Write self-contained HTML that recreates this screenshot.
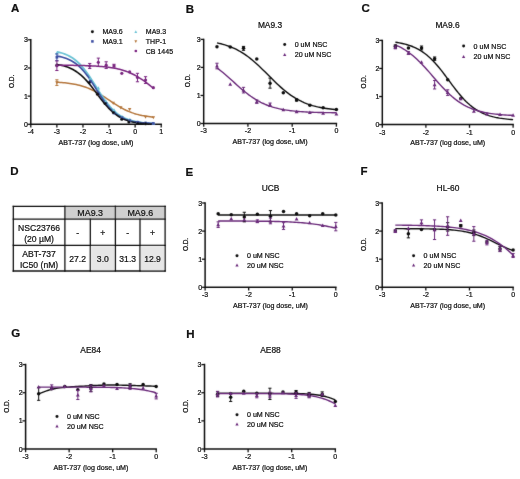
<!DOCTYPE html>
<html><head><meta charset="utf-8"><style>
html,body{margin:0;padding:0;background:#fff;}
body{width:520px;height:479px;overflow:hidden;}
svg{display:block;will-change:transform;}
</style></head><body>
<svg width="520" height="479" viewBox="0 0 520 479">
<rect width="520" height="479" fill="#fff"/>
<filter id="bl" x="0" y="0" width="100%" height="100%" filterUnits="userSpaceOnUse"><feConvolveMatrix order="3" kernelMatrix="0.01 0.06 0.01 0.06 0.72 0.06 0.01 0.06 0.01" edgeMode="none" preserveAlpha="false"/></filter><g filter="url(#bl)">
<path d="M30.80 39.80V124.30H161.20" fill="none" stroke="#111" stroke-width="1.5" stroke-linecap="square"/>
<line x1="27.60" y1="124.30" x2="30.80" y2="124.30" stroke="#111" stroke-width="1.3"/>
<line x1="27.60" y1="96.13" x2="30.80" y2="96.13" stroke="#111" stroke-width="1.3"/>
<line x1="27.60" y1="67.97" x2="30.80" y2="67.97" stroke="#111" stroke-width="1.3"/>
<line x1="27.60" y1="39.80" x2="30.80" y2="39.80" stroke="#111" stroke-width="1.3"/>
<line x1="30.80" y1="124.30" x2="30.80" y2="127.50" stroke="#111" stroke-width="1.3"/>
<line x1="56.88" y1="124.30" x2="56.88" y2="127.50" stroke="#111" stroke-width="1.3"/>
<line x1="82.96" y1="124.30" x2="82.96" y2="127.50" stroke="#111" stroke-width="1.3"/>
<line x1="109.04" y1="124.30" x2="109.04" y2="127.50" stroke="#111" stroke-width="1.3"/>
<line x1="135.12" y1="124.30" x2="135.12" y2="127.50" stroke="#111" stroke-width="1.3"/>
<line x1="161.20" y1="124.30" x2="161.20" y2="127.50" stroke="#111" stroke-width="1.3"/>
<path d="M56.88 82.24 L58.49 82.34 L60.10 82.45 L61.70 82.57 L63.31 82.71 L64.92 82.87 L66.53 83.04 L68.14 83.24 L69.75 83.45 L71.35 83.69 L72.96 83.95 L74.57 84.25 L76.18 84.57 L77.79 84.92 L79.40 85.31 L81.00 85.74 L82.61 86.21 L84.22 86.72 L85.83 87.27 L87.44 87.87 L89.05 88.52 L90.65 89.22 L92.26 89.96 L93.87 90.75 L95.48 91.59 L97.09 92.48 L98.69 93.41 L100.30 94.37 L101.91 95.38 L103.52 96.41 L105.13 97.46 L106.74 98.53 L108.34 99.61 L109.95 100.70 L111.56 101.78 L113.17 102.84 L114.78 103.89 L116.39 104.91 L117.99 105.90 L119.60 106.86 L121.21 107.77 L122.82 108.64 L124.43 109.47 L126.04 110.25 L127.64 110.98 L129.25 111.66 L130.86 112.29 L132.47 112.87 L134.08 113.41 L135.69 113.91 L137.29 114.36 L138.90 114.78 L140.51 115.15 L142.12 115.50 L143.73 115.81 L145.33 116.09 L146.94 116.35 L148.55 116.58 L150.16 116.78 L151.77 116.97 L153.38 117.14" fill="none" stroke="#b5773c" stroke-width="1.5" stroke-linejoin="round"/>
<path d="M56.88 51.76 L58.49 52.12 L60.10 52.53 L61.70 52.99 L63.31 53.52 L64.92 54.11 L66.53 54.77 L68.14 55.52 L69.75 56.36 L71.35 57.30 L72.96 58.35 L74.57 59.51 L76.18 60.79 L77.79 62.20 L79.40 63.74 L81.00 65.42 L82.61 67.24 L84.22 69.19 L85.83 71.26 L87.44 73.46 L89.05 75.77 L90.65 78.17 L92.26 80.65 L93.87 83.18 L95.48 85.75 L97.09 88.32 L98.69 90.88 L100.30 93.40 L101.91 95.86 L103.52 98.23 L105.13 100.50 L106.74 102.67 L108.34 104.70 L109.95 106.61 L111.56 108.38 L113.17 110.02 L114.78 111.52 L116.39 112.89 L117.99 114.13 L119.60 115.25 L121.21 116.26 L122.82 117.17 L124.43 117.98 L126.04 118.70 L127.64 119.34 L129.25 119.91 L130.86 120.41 L132.47 120.86 L134.08 121.25 L135.69 121.59 L137.29 121.90 L138.90 122.16 L140.51 122.40 L142.12 122.60 L143.73 122.78 L145.33 122.94 L146.94 123.08 L148.55 123.20 L150.16 123.30 L151.77 123.39 L153.38 123.47" fill="none" stroke="#6cc3d5" stroke-width="1.8" stroke-linejoin="round"/>
<path d="M56.88 56.02 L58.49 56.31 L60.10 56.65 L61.70 57.04 L63.31 57.48 L64.92 57.98 L66.53 58.55 L68.14 59.20 L69.75 59.93 L71.35 60.76 L72.96 61.70 L74.57 62.74 L76.18 63.91 L77.79 65.20 L79.40 66.63 L81.00 68.20 L82.61 69.91 L84.22 71.76 L85.83 73.75 L87.44 75.87 L89.05 78.10 L90.65 80.44 L92.26 82.87 L93.87 85.36 L95.48 87.88 L97.09 90.42 L98.69 92.94 L100.30 95.42 L101.91 97.83 L103.52 100.16 L105.13 102.38 L106.74 104.48 L108.34 106.44 L109.95 108.27 L111.56 109.96 L113.17 111.51 L114.78 112.91 L116.39 114.19 L117.99 115.33 L119.60 116.36 L121.21 117.27 L122.82 118.09 L124.43 118.81 L126.04 119.45 L127.64 120.01 L129.25 120.50 L130.86 120.93 L132.47 121.31 L134.08 121.64 L135.69 121.92 L137.29 122.18 L138.90 122.39 L140.51 122.58 L142.12 122.75 L143.73 122.89 L145.33 123.02 L146.94 123.12 L148.55 123.22 L150.16 123.30 L151.77 123.37 L153.38 123.43" fill="none" stroke="#3d4fa3" stroke-width="1.7" stroke-linejoin="round"/>
<path d="M56.88 64.42 L58.49 64.70 L60.10 65.01 L61.70 65.37 L63.31 65.78 L64.92 66.24 L66.53 66.76 L68.14 67.34 L69.75 68.00 L71.35 68.73 L72.96 69.56 L74.57 70.47 L76.18 71.48 L77.79 72.60 L79.40 73.83 L81.00 75.17 L82.61 76.62 L84.22 78.19 L85.83 79.86 L87.44 81.65 L89.05 83.53 L90.65 85.49 L92.26 87.53 L93.87 89.62 L95.48 91.75 L97.09 93.90 L98.69 96.05 L100.30 98.17 L101.91 100.25 L103.52 102.27 L105.13 104.21 L106.74 106.06 L108.34 107.82 L109.95 109.46 L111.56 111.00 L113.17 112.42 L114.78 113.73 L116.39 114.92 L117.99 116.01 L119.60 116.99 L121.21 117.88 L122.82 118.68 L124.43 119.39 L126.04 120.03 L127.64 120.59 L129.25 121.10 L130.86 121.54 L132.47 121.93 L134.08 122.28 L135.69 122.58 L137.29 122.85 L138.90 123.09 L140.51 123.29 L142.12 123.47 L143.73 123.63 L145.33 123.77 L146.94 123.89 L148.55 124.00 L150.16 124.09 L151.77 124.17 L153.38 124.24" fill="none" stroke="#111" stroke-width="1.6" stroke-linejoin="round"/>
<path d="M56.88 65.22 L58.49 65.23 L60.10 65.24 L61.70 65.25 L63.31 65.26 L64.92 65.27 L66.53 65.29 L68.14 65.30 L69.75 65.32 L71.35 65.34 L72.96 65.36 L74.57 65.38 L76.18 65.41 L77.79 65.43 L79.40 65.47 L81.00 65.50 L82.61 65.54 L84.22 65.58 L85.83 65.63 L87.44 65.69 L89.05 65.75 L90.65 65.81 L92.26 65.88 L93.87 65.97 L95.48 66.06 L97.09 66.16 L98.69 66.27 L100.30 66.39 L101.91 66.52 L103.52 66.67 L105.13 66.84 L106.74 67.02 L108.34 67.22 L109.95 67.45 L111.56 67.69 L113.17 67.96 L114.78 68.26 L116.39 68.58 L117.99 68.94 L119.60 69.33 L121.21 69.76 L122.82 70.23 L124.43 70.73 L126.04 71.28 L127.64 71.88 L129.25 72.53 L130.86 73.23 L132.47 73.97 L134.08 74.78 L135.69 75.64 L137.29 76.55 L138.90 77.52 L140.51 78.54 L142.12 79.62 L143.73 80.74 L145.33 81.91 L146.94 83.13 L148.55 84.38 L150.16 85.67 L151.77 86.98 L153.38 88.32" fill="none" stroke="#7a2580" stroke-width="1.5" stroke-linejoin="round"/>
<path d="M56.88 79.80V85.43M55.28 79.80H58.48M55.28 85.43H58.48" stroke="#b5773c" stroke-width="1" fill="none"/>
<path d="M56.88 84.41L58.59 81.26L55.17 81.26Z" fill="#b5773c"/>
<path d="M97.83 96.52L99.54 93.38L96.12 93.38Z" fill="#b5773c"/>
<path d="M113.21 104.97L114.92 101.83L111.50 101.83Z" fill="#b5773c"/>
<path d="M120.78 109.48L122.49 106.33L119.07 106.33Z" fill="#b5773c"/>
<path d="M129.64 111.17L131.35 108.02L127.93 108.02Z" fill="#b5773c"/>
<path d="M145.55 118.78L147.26 115.63L143.84 115.63Z" fill="#b5773c"/>
<path d="M153.38 119.34L155.09 116.19L151.67 116.19Z" fill="#b5773c"/>
<path d="M56.88 51.37L58.59 54.52L55.17 54.52Z" fill="#6cc3d5"/>
<path d="M90.26 76.63L91.97 79.78L88.55 79.78Z" fill="#6cc3d5"/>
<path d="M98.35 86.28L100.06 89.43L96.64 89.43Z" fill="#6cc3d5"/>
<path d="M105.91 99.77L107.62 102.92L104.20 102.92Z" fill="#6cc3d5"/>
<path d="M114.00 108.16L115.71 111.31L112.29 111.31Z" fill="#6cc3d5"/>
<path d="M122.08 114.97L123.79 118.12L120.37 118.12Z" fill="#6cc3d5"/>
<path d="M129.90 117.76L131.61 120.91L128.19 120.91Z" fill="#6cc3d5"/>
<path d="M137.73 120.17L139.44 123.32L136.02 123.32Z" fill="#6cc3d5"/>
<path d="M145.55 121.16L147.26 124.31L143.84 124.31Z" fill="#6cc3d5"/>
<path d="M153.38 121.67L155.09 124.82L151.67 124.82Z" fill="#6cc3d5"/>
<path d="M56.88 53.88V60.64M55.28 53.88H58.48M55.28 60.64H58.48" stroke="#3d4fa3" stroke-width="1" fill="none"/>
<rect x="55.53" y="55.91" width="2.70" height="2.70" fill="#3d4fa3"/>
<rect x="88.91" y="79.92" width="2.70" height="2.70" fill="#3d4fa3"/>
<rect x="97.00" y="92.45" width="2.70" height="2.70" fill="#3d4fa3"/>
<rect x="104.56" y="102.06" width="2.70" height="2.70" fill="#3d4fa3"/>
<rect x="112.65" y="111.74" width="2.70" height="2.70" fill="#3d4fa3"/>
<rect x="120.73" y="116.38" width="2.70" height="2.70" fill="#3d4fa3"/>
<rect x="128.55" y="119.33" width="2.70" height="2.70" fill="#3d4fa3"/>
<rect x="136.38" y="120.89" width="2.70" height="2.70" fill="#3d4fa3"/>
<rect x="144.20" y="121.68" width="2.70" height="2.70" fill="#3d4fa3"/>
<rect x="152.03" y="122.08" width="2.70" height="2.70" fill="#3d4fa3"/>
<circle cx="56.88" cy="65.15" r="1.57" fill="#111"/>
<circle cx="89.22" cy="82.61" r="1.57" fill="#111"/>
<circle cx="97.56" cy="94.16" r="1.57" fill="#111"/>
<circle cx="105.13" cy="103.46" r="1.57" fill="#111"/>
<circle cx="113.47" cy="112.47" r="1.57" fill="#111"/>
<circle cx="121.82" cy="119.23" r="1.57" fill="#111"/>
<circle cx="128.86" cy="122.05" r="1.57" fill="#111"/>
<circle cx="137.73" cy="123.45" r="1.57" fill="#111"/>
<circle cx="145.55" cy="123.74" r="1.57" fill="#111"/>
<path d="M56.88 60.92V70.50M55.28 60.92H58.48M55.28 70.50H58.48" stroke="#7a2580" stroke-width="1" fill="none"/>
<circle cx="56.88" cy="65.71" r="1.57" fill="#7a2580"/>
<path d="M89.74 63.46V68.53M88.14 63.46H91.34M88.14 68.53H91.34" stroke="#7a2580" stroke-width="1" fill="none"/>
<circle cx="89.74" cy="66.00" r="1.57" fill="#7a2580"/>
<path d="M98.35 58.11V66.56M96.75 58.11H99.95M96.75 66.56H99.95" stroke="#7a2580" stroke-width="1" fill="none"/>
<circle cx="98.35" cy="62.33" r="1.57" fill="#7a2580"/>
<path d="M106.17 61.77V68.53M104.57 61.77H107.77M104.57 68.53H107.77" stroke="#7a2580" stroke-width="1" fill="none"/>
<circle cx="106.17" cy="65.15" r="1.57" fill="#7a2580"/>
<path d="M114.00 64.31V67.12M112.40 64.31H115.60M112.40 67.12H115.60" stroke="#7a2580" stroke-width="1" fill="none"/>
<circle cx="114.00" cy="65.71" r="1.57" fill="#7a2580"/>
<circle cx="121.82" cy="73.32" r="1.57" fill="#7a2580"/>
<circle cx="129.64" cy="71.91" r="1.57" fill="#7a2580"/>
<path d="M137.47 73.32V81.77M135.87 73.32H139.07M135.87 81.77H139.07" stroke="#7a2580" stroke-width="1" fill="none"/>
<circle cx="137.47" cy="77.54" r="1.57" fill="#7a2580"/>
<path d="M145.55 76.70V83.46M143.95 76.70H147.15M143.95 83.46H147.15" stroke="#7a2580" stroke-width="1" fill="none"/>
<circle cx="145.55" cy="80.08" r="1.57" fill="#7a2580"/>
<circle cx="153.38" cy="87.68" r="1.57" fill="#7a2580"/>
<circle cx="92.40" cy="31.80" r="1.49" fill="#111"/>
<rect x="91.12" y="40.12" width="2.55" height="2.55" fill="#3d4fa3"/>
<path d="M135.80 30.30L137.23 32.92L134.38 32.92Z" fill="#6cc3d5"/>
<path d="M135.80 42.90L137.23 40.27L134.38 40.27Z" fill="#b5773c"/>
<circle cx="135.80" cy="51.00" r="1.31" fill="#7a2580"/>
<path d="M203.70 39.40V123.50H336.40" fill="none" stroke="#111" stroke-width="1.5" stroke-linecap="square"/>
<line x1="200.50" y1="123.50" x2="203.70" y2="123.50" stroke="#111" stroke-width="1.3"/>
<line x1="200.50" y1="95.47" x2="203.70" y2="95.47" stroke="#111" stroke-width="1.3"/>
<line x1="200.50" y1="67.43" x2="203.70" y2="67.43" stroke="#111" stroke-width="1.3"/>
<line x1="200.50" y1="39.40" x2="203.70" y2="39.40" stroke="#111" stroke-width="1.3"/>
<line x1="203.70" y1="123.50" x2="203.70" y2="126.70" stroke="#111" stroke-width="1.3"/>
<line x1="247.93" y1="123.50" x2="247.93" y2="126.70" stroke="#111" stroke-width="1.3"/>
<line x1="292.17" y1="123.50" x2="292.17" y2="126.70" stroke="#111" stroke-width="1.3"/>
<line x1="336.40" y1="123.50" x2="336.40" y2="126.70" stroke="#111" stroke-width="1.3"/>
<path d="M216.97 42.89 L218.96 43.32 L220.95 43.80 L222.94 44.33 L224.93 44.91 L226.92 45.55 L228.91 46.24 L230.90 47.00 L232.89 47.83 L234.88 48.73 L236.88 49.71 L238.87 50.76 L240.86 51.90 L242.85 53.12 L244.84 54.42 L246.83 55.81 L248.82 57.29 L250.81 58.84 L252.80 60.48 L254.79 62.19 L256.78 63.96 L258.77 65.80 L260.76 67.70 L262.75 69.63 L264.74 71.60 L266.73 73.59 L268.72 75.59 L270.71 77.59 L272.70 79.57 L274.69 81.52 L276.68 83.44 L278.68 85.30 L280.67 87.11 L282.66 88.86 L284.65 90.53 L286.64 92.13 L288.63 93.65 L290.62 95.08 L292.61 96.43 L294.60 97.69 L296.59 98.87 L298.58 99.96 L300.57 100.98 L302.56 101.92 L304.55 102.78 L306.54 103.58 L308.53 104.30 L310.52 104.97 L312.51 105.58 L314.50 106.13 L316.50 106.64 L318.49 107.09 L320.48 107.51 L322.47 107.89 L324.46 108.23 L326.45 108.53 L328.44 108.81 L330.43 109.06 L332.42 109.29 L334.41 109.49 L336.40 109.67" fill="none" stroke="#111" stroke-width="1.4" stroke-linejoin="round"/>
<path d="M216.97 67.86 L218.96 69.37 L220.95 70.94 L222.94 72.57 L224.93 74.26 L226.92 75.99 L228.91 77.75 L230.90 79.54 L232.89 81.34 L234.88 83.14 L236.88 84.93 L238.87 86.69 L240.86 88.42 L242.85 90.11 L244.84 91.75 L246.83 93.32 L248.82 94.83 L250.81 96.27 L252.80 97.63 L254.79 98.91 L256.78 100.12 L258.77 101.24 L260.76 102.29 L262.75 103.26 L264.74 104.16 L266.73 104.98 L268.72 105.74 L270.71 106.44 L272.70 107.07 L274.69 107.65 L276.68 108.17 L278.68 108.65 L280.67 109.08 L282.66 109.47 L284.65 109.82 L286.64 110.14 L288.63 110.43 L290.62 110.69 L292.61 110.92 L294.60 111.13 L296.59 111.31 L298.58 111.48 L300.57 111.63 L302.56 111.77 L304.55 111.89 L306.54 112.00 L308.53 112.09 L310.52 112.18 L312.51 112.26 L314.50 112.33 L316.50 112.39 L318.49 112.44 L320.48 112.49 L322.47 112.54 L324.46 112.58 L326.45 112.61 L328.44 112.64 L330.43 112.67 L332.42 112.70 L334.41 112.72 L336.40 112.74" fill="none" stroke="#6a2a7a" stroke-width="1.4" stroke-linejoin="round"/>
<circle cx="216.97" cy="46.69" r="1.75" fill="#111"/>
<circle cx="230.24" cy="46.97" r="1.75" fill="#111"/>
<path d="M243.51 46.41V50.33M241.91 46.41H245.11M241.91 50.33H245.11" stroke="#111" stroke-width="1" fill="none"/>
<circle cx="243.51" cy="48.37" r="1.75" fill="#111"/>
<circle cx="256.78" cy="59.02" r="1.75" fill="#111"/>
<path d="M270.05 78.09V88.18M268.45 78.09H271.65M268.45 88.18H271.65" stroke="#111" stroke-width="1" fill="none"/>
<circle cx="270.05" cy="83.13" r="1.75" fill="#111"/>
<circle cx="283.32" cy="92.66" r="1.75" fill="#111"/>
<path d="M296.59 98.83V101.07M294.99 98.83H298.19M294.99 101.07H298.19" stroke="#111" stroke-width="1" fill="none"/>
<circle cx="296.59" cy="99.95" r="1.75" fill="#111"/>
<circle cx="309.86" cy="105.28" r="1.75" fill="#111"/>
<circle cx="323.13" cy="107.80" r="1.75" fill="#111"/>
<circle cx="336.40" cy="109.48" r="1.75" fill="#111"/>
<path d="M216.97 63.23V68.84M215.37 63.23H218.57M215.37 68.84H218.57" stroke="#6a2a7a" stroke-width="1" fill="none"/>
<path d="M216.97 64.03L218.87 67.53L215.07 67.53Z" fill="#6a2a7a"/>
<path d="M230.24 82.25L232.14 85.75L228.34 85.75Z" fill="#6a2a7a"/>
<path d="M243.51 87.34V92.94M241.91 87.34H245.11M241.91 92.94H245.11" stroke="#6a2a7a" stroke-width="1" fill="none"/>
<path d="M243.51 88.14L245.41 91.64L241.61 91.64Z" fill="#6a2a7a"/>
<path d="M256.78 99.95V103.32M255.18 99.95H258.38M255.18 103.32H258.38" stroke="#6a2a7a" stroke-width="1" fill="none"/>
<path d="M256.78 99.63L258.68 103.13L254.88 103.13Z" fill="#6a2a7a"/>
<path d="M270.05 103.04V106.40M268.45 103.04H271.65M268.45 106.40H271.65" stroke="#6a2a7a" stroke-width="1" fill="none"/>
<path d="M270.05 102.72L271.95 106.22L268.15 106.22Z" fill="#6a2a7a"/>
<path d="M283.32 107.76L285.22 111.26L281.42 111.26Z" fill="#6a2a7a"/>
<path d="M296.59 109.73L298.49 113.23L294.69 113.23Z" fill="#6a2a7a"/>
<path d="M309.86 110.57L311.76 114.07L307.96 114.07Z" fill="#6a2a7a"/>
<path d="M323.13 111.13L325.03 114.63L321.23 114.63Z" fill="#6a2a7a"/>
<path d="M336.40 111.97L338.30 115.47L334.50 115.47Z" fill="#6a2a7a"/>
<circle cx="284.70" cy="44.60" r="1.49" fill="#111"/>
<path d="M284.70 52.90L286.31 55.88L283.08 55.88Z" fill="#6a2a7a"/>
<path d="M382.30 40.40V124.60H513.10" fill="none" stroke="#111" stroke-width="1.5" stroke-linecap="square"/>
<line x1="379.10" y1="124.60" x2="382.30" y2="124.60" stroke="#111" stroke-width="1.3"/>
<line x1="379.10" y1="96.53" x2="382.30" y2="96.53" stroke="#111" stroke-width="1.3"/>
<line x1="379.10" y1="68.47" x2="382.30" y2="68.47" stroke="#111" stroke-width="1.3"/>
<line x1="379.10" y1="40.40" x2="382.30" y2="40.40" stroke="#111" stroke-width="1.3"/>
<line x1="382.30" y1="124.60" x2="382.30" y2="127.80" stroke="#111" stroke-width="1.3"/>
<line x1="425.90" y1="124.60" x2="425.90" y2="127.80" stroke="#111" stroke-width="1.3"/>
<line x1="469.50" y1="124.60" x2="469.50" y2="127.80" stroke="#111" stroke-width="1.3"/>
<line x1="513.10" y1="124.60" x2="513.10" y2="127.80" stroke="#111" stroke-width="1.3"/>
<path d="M395.38 42.27 L397.34 42.56 L399.30 42.90 L401.27 43.27 L403.23 43.70 L405.19 44.18 L407.15 44.72 L409.11 45.33 L411.08 46.01 L413.04 46.77 L415.00 47.62 L416.96 48.57 L418.92 49.62 L420.89 50.78 L422.85 52.07 L424.81 53.47 L426.77 55.01 L428.73 56.68 L430.70 58.48 L432.66 60.42 L434.62 62.49 L436.58 64.68 L438.54 66.99 L440.51 69.41 L442.47 71.91 L444.43 74.48 L446.39 77.11 L448.35 79.76 L450.32 82.42 L452.28 85.06 L454.24 87.66 L456.20 90.20 L458.16 92.66 L460.13 95.02 L462.09 97.27 L464.05 99.40 L466.01 101.41 L467.97 103.28 L469.94 105.01 L471.90 106.61 L473.86 108.08 L475.82 109.42 L477.78 110.64 L479.75 111.75 L481.71 112.75 L483.67 113.64 L485.63 114.45 L487.59 115.17 L489.56 115.81 L491.52 116.38 L493.48 116.89 L495.44 117.34 L497.40 117.74 L499.37 118.10 L501.33 118.41 L503.29 118.68 L505.25 118.93 L507.21 119.14 L509.18 119.33 L511.14 119.50 L513.10 119.65" fill="none" stroke="#111" stroke-width="1.4" stroke-linejoin="round"/>
<path d="M395.38 44.92 L397.34 45.77 L399.30 46.70 L401.27 47.72 L403.23 48.82 L405.19 50.02 L407.15 51.31 L409.11 52.70 L411.08 54.19 L413.04 55.79 L415.00 57.48 L416.96 59.27 L418.92 61.15 L420.89 63.11 L422.85 65.16 L424.81 67.27 L426.77 69.44 L428.73 71.66 L430.70 73.91 L432.66 76.17 L434.62 78.44 L436.58 80.70 L438.54 82.93 L440.51 85.12 L442.47 87.26 L444.43 89.33 L446.39 91.32 L448.35 93.23 L450.32 95.05 L452.28 96.78 L454.24 98.41 L456.20 99.93 L458.16 101.36 L460.13 102.69 L462.09 103.92 L464.05 105.06 L466.01 106.10 L467.97 107.07 L469.94 107.94 L471.90 108.75 L473.86 109.48 L475.82 110.14 L477.78 110.74 L479.75 111.29 L481.71 111.78 L483.67 112.23 L485.63 112.63 L487.59 112.99 L489.56 113.32 L491.52 113.61 L493.48 113.87 L495.44 114.11 L497.40 114.32 L499.37 114.51 L501.33 114.68 L503.29 114.83 L505.25 114.96 L507.21 115.08 L509.18 115.19 L511.14 115.29 L513.10 115.38" fill="none" stroke="#6a2a7a" stroke-width="1.4" stroke-linejoin="round"/>
<path d="M395.38 44.89V47.70M393.78 44.89H396.98M393.78 47.70H396.98" stroke="#111" stroke-width="1" fill="none"/>
<circle cx="395.38" cy="46.29" r="1.75" fill="#111"/>
<circle cx="408.46" cy="47.98" r="1.75" fill="#111"/>
<path d="M421.54 46.01V49.94M419.94 46.01H423.14M419.94 49.94H423.14" stroke="#111" stroke-width="1" fill="none"/>
<circle cx="421.54" cy="47.98" r="1.75" fill="#111"/>
<path d="M434.62 56.96V60.33M433.02 56.96H436.22M433.02 60.33H436.22" stroke="#111" stroke-width="1" fill="none"/>
<circle cx="434.62" cy="58.64" r="1.75" fill="#111"/>
<circle cx="447.70" cy="79.69" r="1.75" fill="#111"/>
<circle cx="460.78" cy="98.50" r="1.75" fill="#111"/>
<path d="M395.38 46.01V48.82M393.78 46.01H396.98M393.78 48.82H396.98" stroke="#6a2a7a" stroke-width="1" fill="none"/>
<path d="M395.38 45.42L397.28 48.92L393.48 48.92Z" fill="#6a2a7a"/>
<path d="M408.46 51.63V54.43M406.86 51.63H410.06M406.86 54.43H410.06" stroke="#6a2a7a" stroke-width="1" fill="none"/>
<path d="M408.46 51.03L410.36 54.53L406.56 54.53Z" fill="#6a2a7a"/>
<path d="M421.54 60.29L423.44 63.79L419.64 63.79Z" fill="#6a2a7a"/>
<path d="M434.62 80.54V88.96M433.02 80.54H436.22M433.02 88.96H436.22" stroke="#6a2a7a" stroke-width="1" fill="none"/>
<path d="M434.62 82.75L436.52 86.25L432.72 86.25Z" fill="#6a2a7a"/>
<path d="M447.70 89.80V95.41M446.10 89.80H449.30M446.10 95.41H449.30" stroke="#6a2a7a" stroke-width="1" fill="none"/>
<path d="M447.70 90.60L449.60 94.10L445.80 94.10Z" fill="#6a2a7a"/>
<path d="M460.78 96.78L462.68 100.28L458.88 100.28Z" fill="#6a2a7a"/>
<path d="M473.86 109.13L475.76 112.63L471.96 112.63Z" fill="#6a2a7a"/>
<path d="M486.94 111.93L488.84 115.43L485.04 115.43Z" fill="#6a2a7a"/>
<path d="M500.02 112.50L501.92 116.00L498.12 116.00Z" fill="#6a2a7a"/>
<path d="M513.10 113.34L515.00 116.84L511.20 116.84Z" fill="#6a2a7a"/>
<circle cx="463.60" cy="46.10" r="1.49" fill="#111"/>
<path d="M463.60 54.90L465.22 57.88L461.99 57.88Z" fill="#6a2a7a"/>
<path d="M205.10 203.00V287.30H335.80" fill="none" stroke="#111" stroke-width="1.5" stroke-linecap="square"/>
<line x1="201.90" y1="287.30" x2="205.10" y2="287.30" stroke="#111" stroke-width="1.3"/>
<line x1="201.90" y1="259.20" x2="205.10" y2="259.20" stroke="#111" stroke-width="1.3"/>
<line x1="201.90" y1="231.10" x2="205.10" y2="231.10" stroke="#111" stroke-width="1.3"/>
<line x1="201.90" y1="203.00" x2="205.10" y2="203.00" stroke="#111" stroke-width="1.3"/>
<line x1="205.10" y1="287.30" x2="205.10" y2="290.50" stroke="#111" stroke-width="1.3"/>
<line x1="248.67" y1="287.30" x2="248.67" y2="290.50" stroke="#111" stroke-width="1.3"/>
<line x1="292.23" y1="287.30" x2="292.23" y2="290.50" stroke="#111" stroke-width="1.3"/>
<line x1="335.80" y1="287.30" x2="335.80" y2="290.50" stroke="#111" stroke-width="1.3"/>
<path d="M218.17 214.94 L220.13 214.94 L222.09 214.94 L224.05 214.94 L226.01 214.94 L227.97 214.94 L229.93 214.94 L231.89 214.94 L233.85 214.94 L235.81 214.94 L237.78 214.94 L239.74 214.94 L241.70 214.94 L243.66 214.94 L245.62 214.94 L247.58 214.94 L249.54 214.94 L251.50 214.94 L253.46 214.94 L255.42 214.94 L257.38 214.94 L259.34 214.94 L261.30 214.94 L263.26 214.94 L265.22 214.94 L267.18 214.94 L269.14 214.94 L271.10 214.94 L273.06 214.94 L275.02 214.94 L276.99 214.94 L278.95 214.94 L280.91 214.94 L282.87 214.94 L284.83 214.94 L286.79 214.94 L288.75 214.94 L290.71 214.94 L292.67 214.94 L294.63 214.94 L296.59 214.94 L298.55 214.94 L300.51 214.94 L302.47 214.94 L304.43 214.94 L306.39 214.94 L308.35 214.94 L310.31 214.94 L312.27 214.94 L314.23 214.94 L316.19 214.94 L318.16 214.94 L320.12 214.94 L322.08 214.94 L324.04 214.94 L326.00 214.94 L327.96 214.94 L329.92 214.94 L331.88 214.94 L333.84 214.94 L335.80 214.94" fill="none" stroke="#111" stroke-width="1.4" stroke-linejoin="round"/>
<path d="M218.17 221.01 L220.13 221.01 L222.09 221.01 L224.05 221.02 L226.01 221.02 L227.97 221.02 L229.93 221.03 L231.89 221.03 L233.85 221.04 L235.81 221.04 L237.78 221.05 L239.74 221.06 L241.70 221.06 L243.66 221.07 L245.62 221.08 L247.58 221.09 L249.54 221.11 L251.50 221.12 L253.46 221.13 L255.42 221.15 L257.38 221.17 L259.34 221.19 L261.30 221.21 L263.26 221.23 L265.22 221.26 L267.18 221.29 L269.14 221.32 L271.10 221.36 L273.06 221.40 L275.02 221.44 L276.99 221.49 L278.95 221.55 L280.91 221.61 L282.87 221.67 L284.83 221.74 L286.79 221.82 L288.75 221.91 L290.71 222.00 L292.67 222.11 L294.63 222.22 L296.59 222.35 L298.55 222.49 L300.51 222.64 L302.47 222.80 L304.43 222.97 L306.39 223.17 L308.35 223.37 L310.31 223.60 L312.27 223.84 L314.23 224.10 L316.19 224.38 L318.16 224.67 L320.12 224.99 L322.08 225.32 L324.04 225.68 L326.00 226.05 L327.96 226.44 L329.92 226.85 L331.88 227.27 L333.84 227.71 L335.80 228.16" fill="none" stroke="#6a2a7a" stroke-width="1.4" stroke-linejoin="round"/>
<circle cx="218.17" cy="213.68" r="1.75" fill="#111"/>
<circle cx="231.24" cy="214.80" r="1.75" fill="#111"/>
<path d="M244.31 212.27V221.83M242.71 212.27H245.91M242.71 221.83H245.91" stroke="#111" stroke-width="1" fill="none"/>
<circle cx="244.31" cy="217.05" r="1.75" fill="#111"/>
<circle cx="257.38" cy="214.24" r="1.75" fill="#111"/>
<path d="M270.45 210.59V221.83M268.85 210.59H272.05M268.85 221.83H272.05" stroke="#111" stroke-width="1" fill="none"/>
<circle cx="270.45" cy="216.21" r="1.75" fill="#111"/>
<circle cx="283.52" cy="211.43" r="1.75" fill="#111"/>
<circle cx="296.59" cy="213.68" r="1.75" fill="#111"/>
<circle cx="309.66" cy="215.65" r="1.75" fill="#111"/>
<circle cx="322.73" cy="213.68" r="1.75" fill="#111"/>
<circle cx="335.80" cy="215.08" r="1.75" fill="#111"/>
<path d="M218.17 221.83V227.45M216.57 221.83H219.77M216.57 227.45H219.77" stroke="#6a2a7a" stroke-width="1" fill="none"/>
<path d="M218.17 222.64L220.07 226.14L216.27 226.14Z" fill="#6a2a7a"/>
<path d="M231.24 216.74L233.14 220.24L229.34 220.24Z" fill="#6a2a7a"/>
<path d="M244.31 217.86L246.21 221.36L242.41 221.36Z" fill="#6a2a7a"/>
<path d="M257.38 219.86V222.67M255.78 219.86H258.98M255.78 222.67H258.98" stroke="#6a2a7a" stroke-width="1" fill="none"/>
<path d="M257.38 219.26L259.28 222.76L255.48 222.76Z" fill="#6a2a7a"/>
<path d="M270.45 218.17V223.79M268.85 218.17H272.05M268.85 223.79H272.05" stroke="#6a2a7a" stroke-width="1" fill="none"/>
<path d="M270.45 218.98L272.35 222.48L268.55 222.48Z" fill="#6a2a7a"/>
<path d="M283.52 222.67V229.41M281.92 222.67H285.12M281.92 229.41H285.12" stroke="#6a2a7a" stroke-width="1" fill="none"/>
<path d="M283.52 224.04L285.42 227.54L281.62 227.54Z" fill="#6a2a7a"/>
<path d="M296.59 217.02L298.49 220.52L294.69 220.52Z" fill="#6a2a7a"/>
<path d="M309.66 220.67L311.56 224.17L307.76 224.17Z" fill="#6a2a7a"/>
<path d="M322.73 223.48L324.63 226.98L320.83 226.98Z" fill="#6a2a7a"/>
<path d="M335.80 222.39V230.82M334.20 222.39H337.40M334.20 230.82H337.40" stroke="#6a2a7a" stroke-width="1" fill="none"/>
<path d="M335.80 224.60L337.70 228.10L333.90 228.10Z" fill="#6a2a7a"/>
<circle cx="237.00" cy="255.80" r="1.49" fill="#111"/>
<path d="M237.00 263.60L238.62 266.57L235.38 266.57Z" fill="#6a2a7a"/>
<path d="M382.20 203.00V287.30H513.10" fill="none" stroke="#111" stroke-width="1.5" stroke-linecap="square"/>
<line x1="379.00" y1="287.30" x2="382.20" y2="287.30" stroke="#111" stroke-width="1.3"/>
<line x1="379.00" y1="259.20" x2="382.20" y2="259.20" stroke="#111" stroke-width="1.3"/>
<line x1="379.00" y1="231.10" x2="382.20" y2="231.10" stroke="#111" stroke-width="1.3"/>
<line x1="379.00" y1="203.00" x2="382.20" y2="203.00" stroke="#111" stroke-width="1.3"/>
<line x1="382.20" y1="287.30" x2="382.20" y2="290.50" stroke="#111" stroke-width="1.3"/>
<line x1="425.83" y1="287.30" x2="425.83" y2="290.50" stroke="#111" stroke-width="1.3"/>
<line x1="469.47" y1="287.30" x2="469.47" y2="290.50" stroke="#111" stroke-width="1.3"/>
<line x1="513.10" y1="287.30" x2="513.10" y2="290.50" stroke="#111" stroke-width="1.3"/>
<path d="M395.29 228.65 L397.25 228.66 L399.22 228.66 L401.18 228.67 L403.14 228.67 L405.11 228.68 L407.07 228.69 L409.03 228.70 L411.00 228.71 L412.96 228.72 L414.93 228.73 L416.89 228.75 L418.85 228.76 L420.82 228.78 L422.78 228.81 L424.74 228.83 L426.71 228.86 L428.67 228.89 L430.63 228.93 L432.60 228.98 L434.56 229.03 L436.52 229.09 L438.49 229.15 L440.45 229.23 L442.41 229.32 L444.38 229.41 L446.34 229.53 L448.30 229.65 L450.27 229.80 L452.23 229.96 L454.19 230.15 L456.16 230.36 L458.12 230.59 L460.09 230.86 L462.05 231.16 L464.01 231.49 L465.98 231.86 L467.94 232.28 L469.90 232.73 L471.87 233.24 L473.83 233.79 L475.79 234.40 L477.76 235.05 L479.72 235.76 L481.68 236.51 L483.65 237.31 L485.61 238.16 L487.57 239.04 L489.54 239.96 L491.50 240.90 L493.47 241.85 L495.43 242.82 L497.39 243.78 L499.36 244.74 L501.32 245.68 L503.28 246.59 L505.25 247.46 L507.21 248.30 L509.17 249.09 L511.14 249.84 L513.10 250.54" fill="none" stroke="#111" stroke-width="1.4" stroke-linejoin="round"/>
<path d="M395.29 225.12 L397.25 225.13 L399.22 225.15 L401.18 225.17 L403.14 225.19 L405.11 225.22 L407.07 225.24 L409.03 225.27 L411.00 225.30 L412.96 225.34 L414.93 225.38 L416.89 225.42 L418.85 225.46 L420.82 225.51 L422.78 225.57 L424.74 225.63 L426.71 225.69 L428.67 225.77 L430.63 225.84 L432.60 225.93 L434.56 226.03 L436.52 226.13 L438.49 226.24 L440.45 226.37 L442.41 226.50 L444.38 226.65 L446.34 226.82 L448.30 226.99 L450.27 227.19 L452.23 227.40 L454.19 227.63 L456.16 227.89 L458.12 228.16 L460.09 228.46 L462.05 228.79 L464.01 229.15 L465.98 229.54 L467.94 229.96 L469.90 230.42 L471.87 230.92 L473.83 231.46 L475.79 232.04 L477.76 232.67 L479.72 233.35 L481.68 234.09 L483.65 234.88 L485.61 235.73 L487.57 236.65 L489.54 237.63 L491.50 238.68 L493.47 239.80 L495.43 240.99 L497.39 242.25 L499.36 243.59 L501.32 245.00 L503.28 246.49 L505.25 248.05 L507.21 249.69 L509.17 251.39 L511.14 253.16 L513.10 255.00" fill="none" stroke="#6a2a7a" stroke-width="1.4" stroke-linejoin="round"/>
<circle cx="395.29" cy="231.10" r="1.75" fill="#111"/>
<path d="M408.38 229.41V237.84M406.78 229.41H409.98M406.78 237.84H409.98" stroke="#111" stroke-width="1" fill="none"/>
<circle cx="408.38" cy="233.63" r="1.75" fill="#111"/>
<circle cx="421.47" cy="229.41" r="1.75" fill="#111"/>
<circle cx="434.56" cy="229.70" r="1.75" fill="#111"/>
<path d="M447.65 222.67V231.10M446.05 222.67H449.25M446.05 231.10H449.25" stroke="#111" stroke-width="1" fill="none"/>
<circle cx="447.65" cy="226.89" r="1.75" fill="#111"/>
<path d="M460.74 224.64V226.89M459.14 224.64H462.34M459.14 226.89H462.34" stroke="#111" stroke-width="1" fill="none"/>
<circle cx="460.74" cy="225.76" r="1.75" fill="#111"/>
<path d="M473.83 229.98V235.60M472.23 229.98H475.43M472.23 235.60H475.43" stroke="#111" stroke-width="1" fill="none"/>
<circle cx="473.83" cy="232.79" r="1.75" fill="#111"/>
<circle cx="486.92" cy="242.06" r="1.75" fill="#111"/>
<path d="M500.01 246.56V251.05M498.41 246.56H501.61M498.41 251.05H501.61" stroke="#111" stroke-width="1" fill="none"/>
<circle cx="500.01" cy="248.80" r="1.75" fill="#111"/>
<circle cx="513.10" cy="249.93" r="1.75" fill="#111"/>
<path d="M395.29 229.70V232.50M393.69 229.70H396.89M393.69 232.50H396.89" stroke="#6a2a7a" stroke-width="1" fill="none"/>
<path d="M395.29 229.10L397.19 232.60L393.39 232.60Z" fill="#6a2a7a"/>
<path d="M408.38 226.29L410.28 229.79L406.48 229.79Z" fill="#6a2a7a"/>
<path d="M421.47 219.86V225.48M419.87 219.86H423.07M419.87 225.48H423.07" stroke="#6a2a7a" stroke-width="1" fill="none"/>
<path d="M421.47 220.67L423.37 224.17L419.57 224.17Z" fill="#6a2a7a"/>
<path d="M434.56 219.86V239.53M432.96 219.86H436.16M432.96 239.53H436.16" stroke="#6a2a7a" stroke-width="1" fill="none"/>
<path d="M434.56 227.70L436.46 231.20L432.66 231.20Z" fill="#6a2a7a"/>
<path d="M447.65 216.77V235.31M446.05 216.77H449.25M446.05 235.31H449.25" stroke="#6a2a7a" stroke-width="1" fill="none"/>
<path d="M447.65 224.04L449.55 227.54L445.75 227.54Z" fill="#6a2a7a"/>
<path d="M460.74 218.42L462.64 221.92L458.84 221.92Z" fill="#6a2a7a"/>
<path d="M473.83 226.60V241.22M472.23 226.60H475.43M472.23 241.22H475.43" stroke="#6a2a7a" stroke-width="1" fill="none"/>
<path d="M473.83 231.91L475.73 235.41L471.93 235.41Z" fill="#6a2a7a"/>
<path d="M486.92 240.37V244.87M485.32 240.37H488.52M485.32 244.87H488.52" stroke="#6a2a7a" stroke-width="1" fill="none"/>
<path d="M486.92 240.62L488.82 244.12L485.02 244.12Z" fill="#6a2a7a"/>
<path d="M500.01 245.99V251.61M498.41 245.99H501.61M498.41 251.61H501.61" stroke="#6a2a7a" stroke-width="1" fill="none"/>
<path d="M500.01 246.80L501.91 250.30L498.11 250.30Z" fill="#6a2a7a"/>
<path d="M513.10 253.58V257.51M511.50 253.58H514.70M511.50 257.51H514.70" stroke="#6a2a7a" stroke-width="1" fill="none"/>
<path d="M513.10 253.55L515.00 257.05L511.20 257.05Z" fill="#6a2a7a"/>
<circle cx="413.60" cy="255.80" r="1.49" fill="#111"/>
<path d="M413.60 263.60L415.22 266.57L411.99 266.57Z" fill="#6a2a7a"/>
<path d="M25.60 364.60V449.00H156.20" fill="none" stroke="#111" stroke-width="1.5" stroke-linecap="square"/>
<line x1="22.40" y1="449.00" x2="25.60" y2="449.00" stroke="#111" stroke-width="1.3"/>
<line x1="22.40" y1="420.87" x2="25.60" y2="420.87" stroke="#111" stroke-width="1.3"/>
<line x1="22.40" y1="392.73" x2="25.60" y2="392.73" stroke="#111" stroke-width="1.3"/>
<line x1="22.40" y1="364.60" x2="25.60" y2="364.60" stroke="#111" stroke-width="1.3"/>
<line x1="25.60" y1="449.00" x2="25.60" y2="452.20" stroke="#111" stroke-width="1.3"/>
<line x1="69.13" y1="449.00" x2="69.13" y2="452.20" stroke="#111" stroke-width="1.3"/>
<line x1="112.67" y1="449.00" x2="112.67" y2="452.20" stroke="#111" stroke-width="1.3"/>
<line x1="156.20" y1="449.00" x2="156.20" y2="452.20" stroke="#111" stroke-width="1.3"/>
<path d="M38.66 393.86 L40.62 393.09 L42.58 392.34 L44.54 391.61 L46.50 390.92 L48.45 390.28 L50.41 389.70 L52.37 389.20 L54.33 388.77 L56.29 388.41 L58.25 388.11 L60.21 387.86 L62.17 387.64 L64.13 387.45 L66.09 387.27 L68.04 387.11 L70.00 386.95 L71.96 386.81 L73.92 386.67 L75.88 386.54 L77.84 386.42 L79.80 386.30 L81.76 386.19 L83.72 386.08 L85.68 385.97 L87.63 385.87 L89.59 385.77 L91.55 385.67 L93.51 385.57 L95.47 385.47 L97.43 385.38 L99.39 385.29 L101.35 385.22 L103.31 385.15 L105.27 385.11 L107.22 385.07 L109.18 385.06 L111.14 385.05 L113.10 385.05 L115.06 385.07 L117.02 385.10 L118.98 385.13 L120.94 385.17 L122.90 385.22 L124.86 385.27 L126.81 385.32 L128.77 385.38 L130.73 385.44 L132.69 385.50 L134.65 385.56 L136.61 385.62 L138.57 385.68 L140.53 385.75 L142.49 385.81 L144.45 385.87 L146.41 385.94 L148.36 386.00 L150.32 386.07 L152.28 386.13 L154.24 386.20 L156.20 386.26" fill="none" stroke="#111" stroke-width="1.4" stroke-linejoin="round"/>
<path d="M38.66 387.11 L40.62 387.11 L42.58 387.11 L44.54 387.11 L46.50 387.11 L48.45 387.11 L50.41 387.11 L52.37 387.11 L54.33 387.11 L56.29 387.11 L58.25 387.12 L60.21 387.12 L62.17 387.12 L64.13 387.12 L66.09 387.12 L68.04 387.13 L70.00 387.13 L71.96 387.13 L73.92 387.13 L75.88 387.14 L77.84 387.14 L79.80 387.15 L81.76 387.15 L83.72 387.16 L85.68 387.17 L87.63 387.18 L89.59 387.19 L91.55 387.20 L93.51 387.21 L95.47 387.23 L97.43 387.25 L99.39 387.27 L101.35 387.29 L103.31 387.32 L105.27 387.35 L107.22 387.38 L109.18 387.42 L111.14 387.46 L113.10 387.51 L115.06 387.57 L117.02 387.63 L118.98 387.71 L120.94 387.79 L122.90 387.89 L124.86 387.99 L126.81 388.12 L128.77 388.25 L130.73 388.41 L132.69 388.58 L134.65 388.78 L136.61 388.99 L138.57 389.24 L140.53 389.51 L142.49 389.80 L144.45 390.13 L146.41 390.49 L148.36 390.89 L150.32 391.32 L152.28 391.78 L154.24 392.28 L156.20 392.81" fill="none" stroke="#6a2a7a" stroke-width="1.4" stroke-linejoin="round"/>
<path d="M38.66 387.39V400.33M37.06 387.39H40.26M37.06 400.33H40.26" stroke="#111" stroke-width="1" fill="none"/>
<circle cx="38.66" cy="393.86" r="1.75" fill="#111"/>
<circle cx="51.72" cy="388.79" r="1.75" fill="#111"/>
<circle cx="64.78" cy="386.54" r="1.75" fill="#111"/>
<circle cx="77.84" cy="389.64" r="1.75" fill="#111"/>
<path d="M90.90 384.57V391.33M89.30 384.57H92.50M89.30 391.33H92.50" stroke="#111" stroke-width="1" fill="none"/>
<circle cx="90.90" cy="387.95" r="1.75" fill="#111"/>
<circle cx="103.96" cy="384.01" r="1.75" fill="#111"/>
<circle cx="117.02" cy="384.57" r="1.75" fill="#111"/>
<path d="M130.08 383.73V388.23M128.48 383.73H131.68M128.48 388.23H131.68" stroke="#111" stroke-width="1" fill="none"/>
<circle cx="130.08" cy="385.98" r="1.75" fill="#111"/>
<circle cx="143.14" cy="384.57" r="1.75" fill="#111"/>
<circle cx="156.20" cy="386.54" r="1.75" fill="#111"/>
<path d="M38.66 385.11L40.56 388.61L36.76 388.61Z" fill="#6a2a7a"/>
<path d="M51.72 384.86V389.36M50.12 384.86H53.32M50.12 389.36H53.32" stroke="#6a2a7a" stroke-width="1" fill="none"/>
<path d="M51.72 385.11L53.62 388.61L49.82 388.61Z" fill="#6a2a7a"/>
<path d="M64.78 384.54L66.68 388.04L62.88 388.04Z" fill="#6a2a7a"/>
<path d="M77.84 390.48V399.49M76.24 390.48H79.44M76.24 399.49H79.44" stroke="#6a2a7a" stroke-width="1" fill="none"/>
<path d="M77.84 392.98L79.74 396.48L75.94 396.48Z" fill="#6a2a7a"/>
<path d="M90.90 385.14V391.89M89.30 385.14H92.50M89.30 391.89H92.50" stroke="#6a2a7a" stroke-width="1" fill="none"/>
<path d="M90.90 386.51L92.80 390.01L89.00 390.01Z" fill="#6a2a7a"/>
<path d="M103.96 383.70L105.86 387.20L102.06 387.20Z" fill="#6a2a7a"/>
<path d="M117.02 386.51L118.92 390.01L115.12 390.01Z" fill="#6a2a7a"/>
<path d="M130.08 384.86V389.36M128.48 384.86H131.68M128.48 389.36H131.68" stroke="#6a2a7a" stroke-width="1" fill="none"/>
<path d="M130.08 385.11L131.98 388.61L128.18 388.61Z" fill="#6a2a7a"/>
<path d="M143.14 385.95L145.04 389.45L141.24 389.45Z" fill="#6a2a7a"/>
<path d="M156.20 393.30V398.92M154.60 393.30H157.80M154.60 398.92H157.80" stroke="#6a2a7a" stroke-width="1" fill="none"/>
<path d="M156.20 394.11L158.10 397.61L154.30 397.61Z" fill="#6a2a7a"/>
<circle cx="57.00" cy="416.50" r="1.49" fill="#111"/>
<path d="M57.00 424.50L58.62 427.47L55.38 427.47Z" fill="#6a2a7a"/>
<path d="M204.50 364.60V449.00H335.30" fill="none" stroke="#111" stroke-width="1.5" stroke-linecap="square"/>
<line x1="201.30" y1="449.00" x2="204.50" y2="449.00" stroke="#111" stroke-width="1.3"/>
<line x1="201.30" y1="420.87" x2="204.50" y2="420.87" stroke="#111" stroke-width="1.3"/>
<line x1="201.30" y1="392.73" x2="204.50" y2="392.73" stroke="#111" stroke-width="1.3"/>
<line x1="201.30" y1="364.60" x2="204.50" y2="364.60" stroke="#111" stroke-width="1.3"/>
<line x1="204.50" y1="449.00" x2="204.50" y2="452.20" stroke="#111" stroke-width="1.3"/>
<line x1="248.10" y1="449.00" x2="248.10" y2="452.20" stroke="#111" stroke-width="1.3"/>
<line x1="291.70" y1="449.00" x2="291.70" y2="452.20" stroke="#111" stroke-width="1.3"/>
<line x1="335.30" y1="449.00" x2="335.30" y2="452.20" stroke="#111" stroke-width="1.3"/>
<path d="M217.58 393.30 L219.54 393.30 L221.50 393.30 L223.47 393.30 L225.43 393.30 L227.39 393.30 L229.35 393.30 L231.31 393.30 L233.28 393.30 L235.24 393.30 L237.20 393.30 L239.16 393.30 L241.12 393.30 L243.09 393.30 L245.05 393.30 L247.01 393.30 L248.97 393.30 L250.93 393.30 L252.90 393.30 L254.86 393.30 L256.82 393.30 L258.78 393.30 L260.74 393.30 L262.71 393.31 L264.67 393.31 L266.63 393.31 L268.59 393.31 L270.55 393.32 L272.52 393.32 L274.48 393.33 L276.44 393.33 L278.40 393.34 L280.36 393.35 L282.33 393.36 L284.29 393.37 L286.25 393.39 L288.21 393.40 L290.17 393.43 L292.14 393.45 L294.10 393.49 L296.06 393.52 L298.02 393.57 L299.98 393.62 L301.95 393.69 L303.91 393.77 L305.87 393.86 L307.83 393.98 L309.79 394.11 L311.76 394.27 L313.72 394.46 L315.68 394.69 L317.64 394.95 L319.60 395.26 L321.57 395.62 L323.53 396.03 L325.49 396.51 L327.45 397.06 L329.41 397.68 L331.38 398.37 L333.34 399.13 L335.30 399.96" fill="none" stroke="#111" stroke-width="1.4" stroke-linejoin="round"/>
<path d="M217.58 393.58 L219.54 393.58 L221.50 393.58 L223.47 393.58 L225.43 393.58 L227.39 393.58 L229.35 393.58 L231.31 393.58 L233.28 393.58 L235.24 393.58 L237.20 393.58 L239.16 393.59 L241.12 393.59 L243.09 393.59 L245.05 393.59 L247.01 393.59 L248.97 393.59 L250.93 393.60 L252.90 393.60 L254.86 393.61 L256.82 393.61 L258.78 393.62 L260.74 393.62 L262.71 393.63 L264.67 393.64 L266.63 393.65 L268.59 393.66 L270.55 393.67 L272.52 393.69 L274.48 393.71 L276.44 393.73 L278.40 393.76 L280.36 393.79 L282.33 393.82 L284.29 393.86 L286.25 393.91 L288.21 393.96 L290.17 394.03 L292.14 394.10 L294.10 394.19 L296.06 394.28 L298.02 394.40 L299.98 394.53 L301.95 394.69 L303.91 394.87 L305.87 395.07 L307.83 395.31 L309.79 395.57 L311.76 395.88 L313.72 396.23 L315.68 396.63 L317.64 397.08 L319.60 397.58 L321.57 398.14 L323.53 398.76 L325.49 399.44 L327.45 400.19 L329.41 401.00 L331.38 401.87 L333.34 402.79 L335.30 403.76" fill="none" stroke="#6a2a7a" stroke-width="1.4" stroke-linejoin="round"/>
<path d="M217.58 391.89V396.39M215.98 391.89H219.18M215.98 396.39H219.18" stroke="#111" stroke-width="1" fill="none"/>
<circle cx="217.58" cy="394.14" r="1.75" fill="#111"/>
<path d="M230.66 393.01V401.45M229.06 393.01H232.26M229.06 401.45H232.26" stroke="#111" stroke-width="1" fill="none"/>
<circle cx="230.66" cy="397.23" r="1.75" fill="#111"/>
<circle cx="243.74" cy="391.33" r="1.75" fill="#111"/>
<circle cx="256.82" cy="393.30" r="1.75" fill="#111"/>
<path d="M269.90 388.23V399.49M268.30 388.23H271.50M268.30 399.49H271.50" stroke="#111" stroke-width="1" fill="none"/>
<circle cx="269.90" cy="393.86" r="1.75" fill="#111"/>
<circle cx="282.98" cy="391.89" r="1.75" fill="#111"/>
<path d="M296.06 390.48V393.86M294.46 390.48H297.66M294.46 393.86H297.66" stroke="#111" stroke-width="1" fill="none"/>
<circle cx="296.06" cy="392.17" r="1.75" fill="#111"/>
<path d="M309.14 392.45V396.95M307.54 392.45H310.74M307.54 396.95H310.74" stroke="#111" stroke-width="1" fill="none"/>
<circle cx="309.14" cy="394.70" r="1.75" fill="#111"/>
<path d="M322.22 391.89V396.39M320.62 391.89H323.82M320.62 396.39H323.82" stroke="#111" stroke-width="1" fill="none"/>
<circle cx="322.22" cy="394.14" r="1.75" fill="#111"/>
<circle cx="335.30" cy="401.45" r="1.75" fill="#111"/>
<path d="M217.58 391.33V396.95M215.98 391.33H219.18M215.98 396.95H219.18" stroke="#6a2a7a" stroke-width="1" fill="none"/>
<path d="M217.58 392.14L219.48 395.64L215.68 395.64Z" fill="#6a2a7a"/>
<path d="M230.66 391.58L232.56 395.08L228.76 395.08Z" fill="#6a2a7a"/>
<path d="M243.74 391.30L245.64 394.80L241.84 394.80Z" fill="#6a2a7a"/>
<path d="M256.82 393.30V397.80M255.22 393.30H258.42M255.22 397.80H258.42" stroke="#6a2a7a" stroke-width="1" fill="none"/>
<path d="M256.82 393.55L258.72 397.05L254.92 397.05Z" fill="#6a2a7a"/>
<path d="M269.90 392.17V397.80M268.30 392.17H271.50M268.30 397.80H271.50" stroke="#6a2a7a" stroke-width="1" fill="none"/>
<path d="M269.90 392.98L271.80 396.48L268.00 396.48Z" fill="#6a2a7a"/>
<path d="M282.98 390.73L284.88 394.23L281.08 394.23Z" fill="#6a2a7a"/>
<path d="M296.06 392.73V398.36M294.46 392.73H297.66M294.46 398.36H297.66" stroke="#6a2a7a" stroke-width="1" fill="none"/>
<path d="M296.06 393.55L297.96 397.05L294.16 397.05Z" fill="#6a2a7a"/>
<path d="M309.14 393.30V397.80M307.54 393.30H310.74M307.54 397.80H310.74" stroke="#6a2a7a" stroke-width="1" fill="none"/>
<path d="M309.14 393.55L311.04 397.05L307.24 397.05Z" fill="#6a2a7a"/>
<path d="M322.22 392.14L324.12 395.64L320.32 395.64Z" fill="#6a2a7a"/>
<path d="M335.30 403.39L337.20 406.89L333.40 406.89Z" fill="#6a2a7a"/>
<circle cx="237.00" cy="414.70" r="1.49" fill="#111"/>
<path d="M237.00 422.60L238.62 425.57L235.38 425.57Z" fill="#6a2a7a"/>
<rect x="64.9" y="206.3" width="100.19999999999999" height="12.799999999999983" fill="#cfcfcf"/>
<rect x="91.3" y="246.3" width="23.10000000000001" height="23.69999999999999" fill="#e6e6e6"/>
<rect x="141.0" y="246.3" width="23.099999999999994" height="23.69999999999999" fill="#e6e6e6"/>
<line x1="13.3" y1="206.3" x2="165.1" y2="206.3" stroke="#111" stroke-width="1.3" stroke-linecap="square"/>
<line x1="13.3" y1="219.1" x2="165.1" y2="219.1" stroke="#111" stroke-width="1.3" stroke-linecap="square"/>
<line x1="13.3" y1="245.3" x2="165.1" y2="245.3" stroke="#111" stroke-width="1.3" stroke-linecap="square"/>
<line x1="13.3" y1="271.0" x2="165.1" y2="271.0" stroke="#111" stroke-width="1.3" stroke-linecap="square"/>
<line x1="13.3" y1="206.3" x2="13.3" y2="271.0" stroke="#111" stroke-width="1.3" stroke-linecap="square"/>
<line x1="64.9" y1="206.3" x2="64.9" y2="271.0" stroke="#111" stroke-width="1.3" stroke-linecap="square"/>
<line x1="115.4" y1="206.3" x2="115.4" y2="271.0" stroke="#111" stroke-width="1.3" stroke-linecap="square"/>
<line x1="165.1" y1="206.3" x2="165.1" y2="271.0" stroke="#111" stroke-width="1.3" stroke-linecap="square"/>
<line x1="90.3" y1="219.1" x2="90.3" y2="271.0" stroke="#111" stroke-width="1.3" stroke-linecap="square"/>
<line x1="140.0" y1="219.1" x2="140.0" y2="271.0" stroke="#111" stroke-width="1.3" stroke-linecap="square"/>
</g>
<text x="11.00" y="12.10" font-size="11.5" font-weight="bold" fill="#111" font-family="Liberation Sans, sans-serif" stroke="#111" stroke-width="0.22">A</text>
<text x="27.80" y="126.80" font-size="7" text-anchor="end" fill="#111" font-family="Liberation Sans, sans-serif" stroke="#111" stroke-width="0.22">0</text>
<text x="27.80" y="98.63" font-size="7" text-anchor="end" fill="#111" font-family="Liberation Sans, sans-serif" stroke="#111" stroke-width="0.22">1</text>
<text x="27.80" y="70.47" font-size="7" text-anchor="end" fill="#111" font-family="Liberation Sans, sans-serif" stroke="#111" stroke-width="0.22">2</text>
<text x="27.80" y="42.30" font-size="7" text-anchor="end" fill="#111" font-family="Liberation Sans, sans-serif" stroke="#111" stroke-width="0.22">3</text>
<text x="30.80" y="134.20" font-size="7" text-anchor="middle" fill="#111" font-family="Liberation Sans, sans-serif" stroke="#111" stroke-width="0.22">-4</text>
<text x="56.88" y="134.20" font-size="7" text-anchor="middle" fill="#111" font-family="Liberation Sans, sans-serif" stroke="#111" stroke-width="0.22">-3</text>
<text x="82.96" y="134.20" font-size="7" text-anchor="middle" fill="#111" font-family="Liberation Sans, sans-serif" stroke="#111" stroke-width="0.22">-2</text>
<text x="109.04" y="134.20" font-size="7" text-anchor="middle" fill="#111" font-family="Liberation Sans, sans-serif" stroke="#111" stroke-width="0.22">-1</text>
<text x="135.12" y="134.20" font-size="7" text-anchor="middle" fill="#111" font-family="Liberation Sans, sans-serif" stroke="#111" stroke-width="0.22">0</text>
<text x="161.20" y="134.20" font-size="7" text-anchor="middle" fill="#111" font-family="Liberation Sans, sans-serif" stroke="#111" stroke-width="0.22">1</text>
<text x="96.00" y="144.80" font-size="7.1" text-anchor="middle" fill="#111" font-family="Liberation Sans, sans-serif" stroke="#111" stroke-width="0.22">ABT-737 (log dose, uM)</text>
<text x="13.60" y="81.35" transform="rotate(-90 13.60 81.35)" font-size="6.4" text-anchor="middle" fill="#111" font-family="Liberation Sans, sans-serif" stroke="#111" stroke-width="0.22">O.D.</text>
<text x="102.40" y="34.30" font-size="7" fill="#111" font-family="Liberation Sans, sans-serif" stroke="#111" stroke-width="0.22">MA9.6</text>
<text x="102.40" y="43.90" font-size="7" fill="#111" font-family="Liberation Sans, sans-serif" stroke="#111" stroke-width="0.22">MA9.1</text>
<text x="145.80" y="34.30" font-size="7" fill="#111" font-family="Liberation Sans, sans-serif" stroke="#111" stroke-width="0.22">MA9.3</text>
<text x="145.80" y="43.90" font-size="7" fill="#111" font-family="Liberation Sans, sans-serif" stroke="#111" stroke-width="0.22">THP-1</text>
<text x="145.80" y="53.50" font-size="7" fill="#111" font-family="Liberation Sans, sans-serif" stroke="#111" stroke-width="0.22">CB 1445</text>
<text x="185.80" y="12.60" font-size="11.5" font-weight="bold" fill="#111" font-family="Liberation Sans, sans-serif" stroke="#111" stroke-width="0.22">B</text>
<text x="200.70" y="126.00" font-size="7" text-anchor="end" fill="#111" font-family="Liberation Sans, sans-serif" stroke="#111" stroke-width="0.22">0</text>
<text x="200.70" y="97.97" font-size="7" text-anchor="end" fill="#111" font-family="Liberation Sans, sans-serif" stroke="#111" stroke-width="0.22">1</text>
<text x="200.70" y="69.93" font-size="7" text-anchor="end" fill="#111" font-family="Liberation Sans, sans-serif" stroke="#111" stroke-width="0.22">2</text>
<text x="200.70" y="41.90" font-size="7" text-anchor="end" fill="#111" font-family="Liberation Sans, sans-serif" stroke="#111" stroke-width="0.22">3</text>
<text x="203.70" y="133.40" font-size="7" text-anchor="middle" fill="#111" font-family="Liberation Sans, sans-serif" stroke="#111" stroke-width="0.22">-3</text>
<text x="247.93" y="133.40" font-size="7" text-anchor="middle" fill="#111" font-family="Liberation Sans, sans-serif" stroke="#111" stroke-width="0.22">-2</text>
<text x="292.17" y="133.40" font-size="7" text-anchor="middle" fill="#111" font-family="Liberation Sans, sans-serif" stroke="#111" stroke-width="0.22">-1</text>
<text x="336.40" y="133.40" font-size="7" text-anchor="middle" fill="#111" font-family="Liberation Sans, sans-serif" stroke="#111" stroke-width="0.22">0</text>
<text x="270.05" y="144.00" font-size="7.1" text-anchor="middle" fill="#111" font-family="Liberation Sans, sans-serif" stroke="#111" stroke-width="0.22">ABT-737 (log dose, uM)</text>
<text x="189.80" y="80.75" transform="rotate(-90 189.80 80.75)" font-size="6.4" text-anchor="middle" fill="#111" font-family="Liberation Sans, sans-serif" stroke="#111" stroke-width="0.22">O.D.</text>
<text x="270.00" y="27.80" font-size="8.4" text-anchor="middle" fill="#111" font-family="Liberation Sans, sans-serif" stroke="#111" stroke-width="0.22">MA9.3</text>
<text x="294.70" y="47.10" font-size="7.1" fill="#111" font-family="Liberation Sans, sans-serif" stroke="#111" stroke-width="0.22">0 uM NSC</text>
<text x="294.70" y="57.10" font-size="7.1" fill="#111" font-family="Liberation Sans, sans-serif" stroke="#111" stroke-width="0.22">20 uM NSC</text>
<text x="361.50" y="12.20" font-size="11.5" font-weight="bold" fill="#111" font-family="Liberation Sans, sans-serif" stroke="#111" stroke-width="0.22">C</text>
<text x="379.30" y="127.10" font-size="7" text-anchor="end" fill="#111" font-family="Liberation Sans, sans-serif" stroke="#111" stroke-width="0.22">0</text>
<text x="379.30" y="99.03" font-size="7" text-anchor="end" fill="#111" font-family="Liberation Sans, sans-serif" stroke="#111" stroke-width="0.22">1</text>
<text x="379.30" y="70.97" font-size="7" text-anchor="end" fill="#111" font-family="Liberation Sans, sans-serif" stroke="#111" stroke-width="0.22">2</text>
<text x="379.30" y="42.90" font-size="7" text-anchor="end" fill="#111" font-family="Liberation Sans, sans-serif" stroke="#111" stroke-width="0.22">3</text>
<text x="382.30" y="134.50" font-size="7" text-anchor="middle" fill="#111" font-family="Liberation Sans, sans-serif" stroke="#111" stroke-width="0.22">-3</text>
<text x="425.90" y="134.50" font-size="7" text-anchor="middle" fill="#111" font-family="Liberation Sans, sans-serif" stroke="#111" stroke-width="0.22">-2</text>
<text x="469.50" y="134.50" font-size="7" text-anchor="middle" fill="#111" font-family="Liberation Sans, sans-serif" stroke="#111" stroke-width="0.22">-1</text>
<text x="513.10" y="134.50" font-size="7" text-anchor="middle" fill="#111" font-family="Liberation Sans, sans-serif" stroke="#111" stroke-width="0.22">0</text>
<text x="447.70" y="145.10" font-size="7.1" text-anchor="middle" fill="#111" font-family="Liberation Sans, sans-serif" stroke="#111" stroke-width="0.22">ABT-737 (log dose, uM)</text>
<text x="365.80" y="81.80" transform="rotate(-90 365.80 81.80)" font-size="6.4" text-anchor="middle" fill="#111" font-family="Liberation Sans, sans-serif" stroke="#111" stroke-width="0.22">O.D.</text>
<text x="447.50" y="27.80" font-size="8.4" text-anchor="middle" fill="#111" font-family="Liberation Sans, sans-serif" stroke="#111" stroke-width="0.22">MA9.6</text>
<text x="473.60" y="48.60" font-size="7.1" fill="#111" font-family="Liberation Sans, sans-serif" stroke="#111" stroke-width="0.22">0 uM NSC</text>
<text x="473.60" y="59.10" font-size="7.1" fill="#111" font-family="Liberation Sans, sans-serif" stroke="#111" stroke-width="0.22">20 uM NSC</text>
<text x="185.50" y="175.60" font-size="11.5" font-weight="bold" fill="#111" font-family="Liberation Sans, sans-serif" stroke="#111" stroke-width="0.22">E</text>
<text x="202.10" y="289.80" font-size="7" text-anchor="end" fill="#111" font-family="Liberation Sans, sans-serif" stroke="#111" stroke-width="0.22">0</text>
<text x="202.10" y="261.70" font-size="7" text-anchor="end" fill="#111" font-family="Liberation Sans, sans-serif" stroke="#111" stroke-width="0.22">1</text>
<text x="202.10" y="233.60" font-size="7" text-anchor="end" fill="#111" font-family="Liberation Sans, sans-serif" stroke="#111" stroke-width="0.22">2</text>
<text x="202.10" y="205.50" font-size="7" text-anchor="end" fill="#111" font-family="Liberation Sans, sans-serif" stroke="#111" stroke-width="0.22">3</text>
<text x="205.10" y="297.20" font-size="7" text-anchor="middle" fill="#111" font-family="Liberation Sans, sans-serif" stroke="#111" stroke-width="0.22">-3</text>
<text x="248.67" y="297.20" font-size="7" text-anchor="middle" fill="#111" font-family="Liberation Sans, sans-serif" stroke="#111" stroke-width="0.22">-2</text>
<text x="292.23" y="297.20" font-size="7" text-anchor="middle" fill="#111" font-family="Liberation Sans, sans-serif" stroke="#111" stroke-width="0.22">-1</text>
<text x="335.80" y="297.20" font-size="7" text-anchor="middle" fill="#111" font-family="Liberation Sans, sans-serif" stroke="#111" stroke-width="0.22">0</text>
<text x="270.45" y="307.80" font-size="7.1" text-anchor="middle" fill="#111" font-family="Liberation Sans, sans-serif" stroke="#111" stroke-width="0.22">ABT-737 (log dose, uM)</text>
<text x="188.30" y="244.45" transform="rotate(-90 188.30 244.45)" font-size="6.4" text-anchor="middle" fill="#111" font-family="Liberation Sans, sans-serif" stroke="#111" stroke-width="0.22">O.D.</text>
<text x="270.50" y="191.20" font-size="8.4" text-anchor="middle" fill="#111" font-family="Liberation Sans, sans-serif" stroke="#111" stroke-width="0.22">UCB</text>
<text x="247.00" y="258.30" font-size="7.1" fill="#111" font-family="Liberation Sans, sans-serif" stroke="#111" stroke-width="0.22">0 uM NSC</text>
<text x="247.00" y="267.80" font-size="7.1" fill="#111" font-family="Liberation Sans, sans-serif" stroke="#111" stroke-width="0.22">20 uM NSC</text>
<text x="360.60" y="175.30" font-size="11.5" font-weight="bold" fill="#111" font-family="Liberation Sans, sans-serif" stroke="#111" stroke-width="0.22">F</text>
<text x="379.20" y="289.80" font-size="7" text-anchor="end" fill="#111" font-family="Liberation Sans, sans-serif" stroke="#111" stroke-width="0.22">0</text>
<text x="379.20" y="261.70" font-size="7" text-anchor="end" fill="#111" font-family="Liberation Sans, sans-serif" stroke="#111" stroke-width="0.22">1</text>
<text x="379.20" y="233.60" font-size="7" text-anchor="end" fill="#111" font-family="Liberation Sans, sans-serif" stroke="#111" stroke-width="0.22">2</text>
<text x="379.20" y="205.50" font-size="7" text-anchor="end" fill="#111" font-family="Liberation Sans, sans-serif" stroke="#111" stroke-width="0.22">3</text>
<text x="382.20" y="297.20" font-size="7" text-anchor="middle" fill="#111" font-family="Liberation Sans, sans-serif" stroke="#111" stroke-width="0.22">-3</text>
<text x="425.83" y="297.20" font-size="7" text-anchor="middle" fill="#111" font-family="Liberation Sans, sans-serif" stroke="#111" stroke-width="0.22">-2</text>
<text x="469.47" y="297.20" font-size="7" text-anchor="middle" fill="#111" font-family="Liberation Sans, sans-serif" stroke="#111" stroke-width="0.22">-1</text>
<text x="513.10" y="297.20" font-size="7" text-anchor="middle" fill="#111" font-family="Liberation Sans, sans-serif" stroke="#111" stroke-width="0.22">0</text>
<text x="447.65" y="307.80" font-size="7.1" text-anchor="middle" fill="#111" font-family="Liberation Sans, sans-serif" stroke="#111" stroke-width="0.22">ABT-737 (log dose, uM)</text>
<text x="365.80" y="244.45" transform="rotate(-90 365.80 244.45)" font-size="6.4" text-anchor="middle" fill="#111" font-family="Liberation Sans, sans-serif" stroke="#111" stroke-width="0.22">O.D.</text>
<text x="448.00" y="191.20" font-size="8.4" text-anchor="middle" fill="#111" font-family="Liberation Sans, sans-serif" stroke="#111" stroke-width="0.22">HL-60</text>
<text x="423.60" y="258.30" font-size="7.1" fill="#111" font-family="Liberation Sans, sans-serif" stroke="#111" stroke-width="0.22">0 uM NSC</text>
<text x="423.60" y="267.80" font-size="7.1" fill="#111" font-family="Liberation Sans, sans-serif" stroke="#111" stroke-width="0.22">20 uM NSC</text>
<text x="11.30" y="337.20" font-size="11.5" font-weight="bold" fill="#111" font-family="Liberation Sans, sans-serif" stroke="#111" stroke-width="0.22">G</text>
<text x="22.60" y="451.50" font-size="7" text-anchor="end" fill="#111" font-family="Liberation Sans, sans-serif" stroke="#111" stroke-width="0.22">0</text>
<text x="22.60" y="423.37" font-size="7" text-anchor="end" fill="#111" font-family="Liberation Sans, sans-serif" stroke="#111" stroke-width="0.22">1</text>
<text x="22.60" y="395.23" font-size="7" text-anchor="end" fill="#111" font-family="Liberation Sans, sans-serif" stroke="#111" stroke-width="0.22">2</text>
<text x="22.60" y="367.10" font-size="7" text-anchor="end" fill="#111" font-family="Liberation Sans, sans-serif" stroke="#111" stroke-width="0.22">3</text>
<text x="25.60" y="458.90" font-size="7" text-anchor="middle" fill="#111" font-family="Liberation Sans, sans-serif" stroke="#111" stroke-width="0.22">-3</text>
<text x="69.13" y="458.90" font-size="7" text-anchor="middle" fill="#111" font-family="Liberation Sans, sans-serif" stroke="#111" stroke-width="0.22">-2</text>
<text x="112.67" y="458.90" font-size="7" text-anchor="middle" fill="#111" font-family="Liberation Sans, sans-serif" stroke="#111" stroke-width="0.22">-1</text>
<text x="156.20" y="458.90" font-size="7" text-anchor="middle" fill="#111" font-family="Liberation Sans, sans-serif" stroke="#111" stroke-width="0.22">0</text>
<text x="90.90" y="469.50" font-size="7.1" text-anchor="middle" fill="#111" font-family="Liberation Sans, sans-serif" stroke="#111" stroke-width="0.22">ABT-737 (log dose, uM)</text>
<text x="9.10" y="406.10" transform="rotate(-90 9.10 406.10)" font-size="6.4" text-anchor="middle" fill="#111" font-family="Liberation Sans, sans-serif" stroke="#111" stroke-width="0.22">O.D.</text>
<text x="90.60" y="352.80" font-size="8.4" text-anchor="middle" fill="#111" font-family="Liberation Sans, sans-serif" stroke="#111" stroke-width="0.22">AE84</text>
<text x="67.00" y="419.00" font-size="7.1" fill="#111" font-family="Liberation Sans, sans-serif" stroke="#111" stroke-width="0.22">0 uM NSC</text>
<text x="67.00" y="428.70" font-size="7.1" fill="#111" font-family="Liberation Sans, sans-serif" stroke="#111" stroke-width="0.22">20 uM NSC</text>
<text x="186.20" y="338.20" font-size="11.5" font-weight="bold" fill="#111" font-family="Liberation Sans, sans-serif" stroke="#111" stroke-width="0.22">H</text>
<text x="201.50" y="451.50" font-size="7" text-anchor="end" fill="#111" font-family="Liberation Sans, sans-serif" stroke="#111" stroke-width="0.22">0</text>
<text x="201.50" y="423.37" font-size="7" text-anchor="end" fill="#111" font-family="Liberation Sans, sans-serif" stroke="#111" stroke-width="0.22">1</text>
<text x="201.50" y="395.23" font-size="7" text-anchor="end" fill="#111" font-family="Liberation Sans, sans-serif" stroke="#111" stroke-width="0.22">2</text>
<text x="201.50" y="367.10" font-size="7" text-anchor="end" fill="#111" font-family="Liberation Sans, sans-serif" stroke="#111" stroke-width="0.22">3</text>
<text x="204.50" y="458.90" font-size="7" text-anchor="middle" fill="#111" font-family="Liberation Sans, sans-serif" stroke="#111" stroke-width="0.22">-3</text>
<text x="248.10" y="458.90" font-size="7" text-anchor="middle" fill="#111" font-family="Liberation Sans, sans-serif" stroke="#111" stroke-width="0.22">-2</text>
<text x="291.70" y="458.90" font-size="7" text-anchor="middle" fill="#111" font-family="Liberation Sans, sans-serif" stroke="#111" stroke-width="0.22">-1</text>
<text x="335.30" y="458.90" font-size="7" text-anchor="middle" fill="#111" font-family="Liberation Sans, sans-serif" stroke="#111" stroke-width="0.22">0</text>
<text x="269.90" y="469.50" font-size="7.1" text-anchor="middle" fill="#111" font-family="Liberation Sans, sans-serif" stroke="#111" stroke-width="0.22">ABT-737 (log dose, uM)</text>
<text x="188.30" y="406.10" transform="rotate(-90 188.30 406.10)" font-size="6.4" text-anchor="middle" fill="#111" font-family="Liberation Sans, sans-serif" stroke="#111" stroke-width="0.22">O.D.</text>
<text x="270.50" y="352.80" font-size="8.4" text-anchor="middle" fill="#111" font-family="Liberation Sans, sans-serif" stroke="#111" stroke-width="0.22">AE88</text>
<text x="247.00" y="417.20" font-size="7.1" fill="#111" font-family="Liberation Sans, sans-serif" stroke="#111" stroke-width="0.22">0 uM NSC</text>
<text x="247.00" y="426.80" font-size="7.1" fill="#111" font-family="Liberation Sans, sans-serif" stroke="#111" stroke-width="0.22">20 uM NSC</text>
<text x="10.30" y="175.10" font-size="11.5" font-weight="bold" fill="#111" font-family="Liberation Sans, sans-serif" stroke="#111" stroke-width="0.22">D</text>
<text x="90.15" y="216.30" font-size="8.9" text-anchor="middle" fill="#111" font-family="Liberation Sans, sans-serif" stroke="#111" stroke-width="0.22">MA9.3</text>
<text x="140.25" y="216.30" font-size="8.9" text-anchor="middle" fill="#111" font-family="Liberation Sans, sans-serif" stroke="#111" stroke-width="0.22">MA9.6</text>
<text x="39.10" y="231.00" font-size="8.6" text-anchor="middle" fill="#111" font-family="Liberation Sans, sans-serif" stroke="#111" stroke-width="0.22">NSC23766</text>
<text x="39.10" y="241.60" font-size="8.6" text-anchor="middle" fill="#111" font-family="Liberation Sans, sans-serif" stroke="#111" stroke-width="0.22">(20 µM)</text>
<text x="39.10" y="256.80" font-size="8.6" text-anchor="middle" fill="#111" font-family="Liberation Sans, sans-serif" stroke="#111" stroke-width="0.22">ABT-737</text>
<text x="39.10" y="267.80" font-size="8.6" text-anchor="middle" fill="#111" font-family="Liberation Sans, sans-serif" stroke="#111" stroke-width="0.22">IC50 (nM)</text>
<text x="77.60" y="236.20" font-size="8.6" text-anchor="middle" fill="#111" font-family="Liberation Sans, sans-serif" stroke="#111" stroke-width="0.22">-</text>
<text x="102.85" y="236.20" font-size="8.6" text-anchor="middle" fill="#111" font-family="Liberation Sans, sans-serif" stroke="#111" stroke-width="0.22">+</text>
<text x="127.70" y="236.20" font-size="8.6" text-anchor="middle" fill="#111" font-family="Liberation Sans, sans-serif" stroke="#111" stroke-width="0.22">-</text>
<text x="152.55" y="236.20" font-size="8.6" text-anchor="middle" fill="#111" font-family="Liberation Sans, sans-serif" stroke="#111" stroke-width="0.22">+</text>
<text x="77.60" y="262.30" font-size="8.6" text-anchor="middle" fill="#111" font-family="Liberation Sans, sans-serif" stroke="#111" stroke-width="0.22">27.2</text>
<text x="102.85" y="262.30" font-size="8.6" text-anchor="middle" fill="#111" font-family="Liberation Sans, sans-serif" stroke="#111" stroke-width="0.22">3.0</text>
<text x="127.70" y="262.30" font-size="8.6" text-anchor="middle" fill="#111" font-family="Liberation Sans, sans-serif" stroke="#111" stroke-width="0.22">31.3</text>
<text x="152.55" y="262.30" font-size="8.6" text-anchor="middle" fill="#111" font-family="Liberation Sans, sans-serif" stroke="#111" stroke-width="0.22">12.9</text>
</svg>
</body></html>
